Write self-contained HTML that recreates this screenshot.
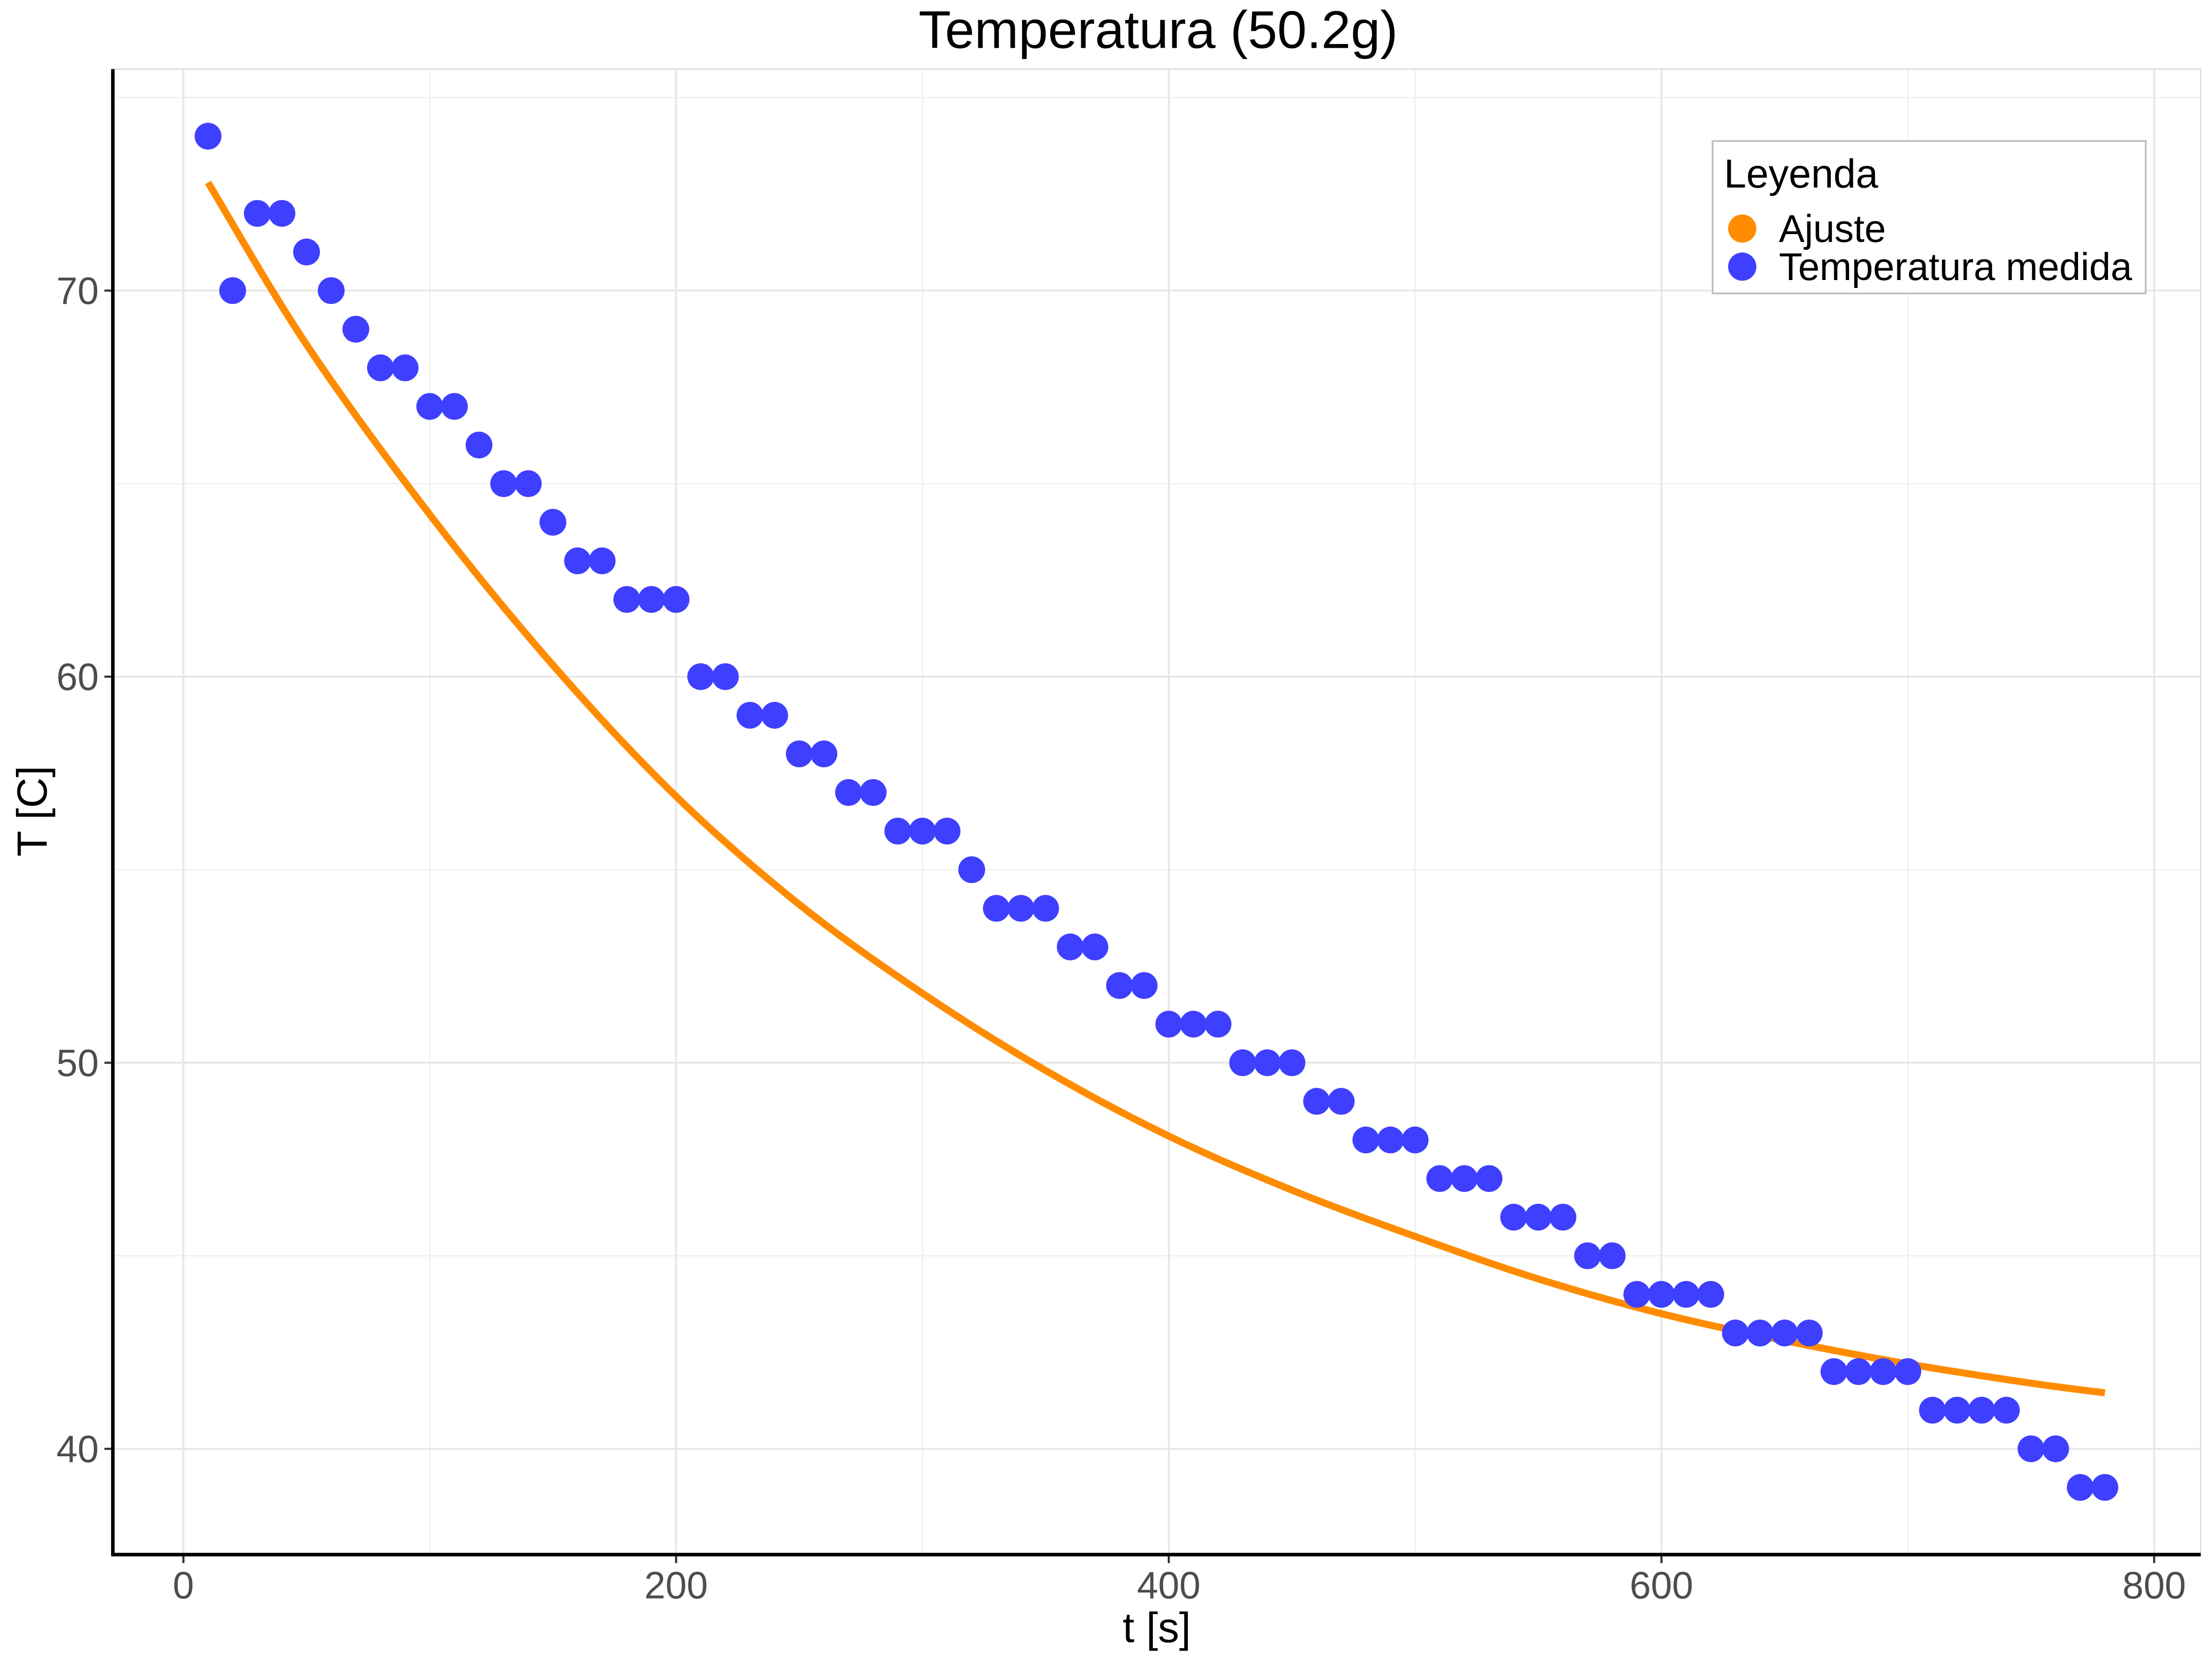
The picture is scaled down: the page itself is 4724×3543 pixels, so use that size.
<!DOCTYPE html>
<html><head><meta charset="utf-8"><style>html,body{margin:0;padding:0;background:#fff}svg{display:block}text{font-family:"Liberation Sans",Arial,sans-serif}</style></head>
<body>
<svg id="chart" width="4724" height="3543" viewBox="0 0 1568 1176" xmlns="http://www.w3.org/2000/svg">
<rect width="1568" height="1176" fill="#fff"/>
<g id="grid"></g>
<g id="fit"></g>
<g id="pts"></g>
<g id="axes"></g>
<text x="821" y="34" font-size="37.5" text-anchor="middle">Temperatura (50.2g)</text>
<text x="820" y="1164" font-size="30" text-anchor="middle">t [s]</text>
<text transform="translate(33,575) rotate(-90)" font-size="30" text-anchor="middle">T [C]</text>
<g>
<rect x="1214" y="100" width="307" height="108" fill="#fff" stroke="#bbb" stroke-width="1.2"/>
<text x="1222" y="133" font-size="28.5">Leyenda</text>
<circle cx="1235" cy="162" r="10" fill="#ff8c00"/>
<text x="1261" y="171.5" font-size="27.3">Ajuste</text>
<circle cx="1235" cy="189" r="10" fill="#3f3fff"/>
<text x="1261" y="198.5" font-size="27.3">Temperatura medida</text>
</g>
</svg>
<script>
const times=[10,20,30,40,50,60,70,80,90,100,110,120,130,140,150,160,170,180,190,200,210,220,230,240,250,260,270,280,290,300,310,320,330,340,350,360,370,380,390,400,410,420,430,440,450,460,470,480,490,500,510,520,530,540,550,560,570,580,590,600,610,620,630,640,650,660,670,680,690,700,710,720,730,740,750,760,770,780];
const temps=[74,70,72,72,71,70,69,68,68,67,67,66,65,65,64,63,63,62,62,62,60,60,59,59,58,58,57,57,56,56,56,55,54,54,54,53,53,52,52,51,51,51,50,50,50,49,49,48,48,48,47,47,47,46,46,46,45,45,44,44,44,44,43,43,43,43,42,42,42,42,41,41,41,41,40,40,39,39];
const fitT=[10,50,100,150,200,250,300,350,400,450,500,550,600,650,700,750,780];
const fitV=[72.8,68.6,64.2,60.3,56.9,54.1,51.8,49.8,48.1,46.7,45.5,44.4,43.5,42.8,42.2,41.7,41.45];
const xTicks=[0,200,400,600,800];
const xMinor=[100,300,500,700];
const yTicks=[40,50,60,70];
const yMinor=[45,55,65,75];
const NS="http://www.w3.org/2000/svg";
const L=80,R=1560,T=49,B=1102;
const xs=t=>130+(t-0)*(1527-130)/800;
const ys=v=>1027-(v-40)*(1027-206)/30;
function mk(tag,attrs,parent){const e=document.createElementNS(NS,tag);for(const k in attrs)e.setAttribute(k,attrs[k]);parent.appendChild(e);return e;}
const grid=document.getElementById('grid');
const axes=document.getElementById('axes');
xMinor.forEach(t=>{const l=mk('line',{x1:xs(t),x2:xs(t),y1:T,y2:B,stroke:'#f0f0f0','stroke-width':1},grid);

});
yMinor.forEach(v=>{const l=mk('line',{x1:L,x2:R,y1:ys(v),y2:ys(v),stroke:'#f0f0f0','stroke-width':1},grid);

});
xTicks.forEach(t=>{const l=mk('line',{x1:xs(t),x2:xs(t),y1:T,y2:B,stroke:'#e6e6e6','stroke-width':1.3},grid);


const tk=mk('line',{x1:xs(t),x2:xs(t),y1:B,y2:B+6,stroke:'#333','stroke-width':1.5},axes);


const tx=mk('text',{x:xs(t),y:1133,'font-size':27,fill:'#4d4d4d','text-anchor':'middle'},axes);tx.textContent=t;

});
yTicks.forEach(v=>{const l=mk('line',{x1:L,x2:R,y1:ys(v),y2:ys(v),stroke:'#e6e6e6','stroke-width':1.3},grid);


const tk=mk('line',{x1:L-6,x2:L,y1:ys(v),y2:ys(v),stroke:'#333','stroke-width':1.5},axes);


const tx=mk('text',{x:L-10,y:ys(v)+9.5,'font-size':27,fill:'#4d4d4d','text-anchor':'end'},axes);tx.textContent=v;

});
const border=mk('rect',{x:L,y:T,width:R-L,height:B-T,fill:'none',stroke:'#ddd','stroke-width':1},axes);


const ax=mk('line',{x1:L,x2:L,y1:T,y2:B+1,stroke:'#000','stroke-width':2.5},axes);


const ax2=mk('line',{x1:L-1,x2:R,y1:B,y2:B,stroke:'#000','stroke-width':2.5},axes);


// smooth Catmull-Rom path through fit points
const P=fitT.map((t,i)=>[xs(t),ys(fitV[i])]);
let d='M'+P[0][0]+','+P[0][1];
for(let i=0;i<P.length-1;i++){const p0=P[Math.max(0,i-1)],p1=P[i],p2=P[i+1],p3=P[Math.min(P.length-1,i+2)];
const c1=[p1[0]+(p2[0]-p0[0])/6,p1[1]+(p2[1]-p0[1])/6],c2=[p2[0]-(p3[0]-p1[0])/6,p2[1]-(p3[1]-p1[1])/6];
d+=' C'+c1[0]+','+c1[1]+' '+c2[0]+','+c2[1]+' '+p2[0]+','+p2[1];}
const fp=mk('path',{d:d,fill:'none',stroke:'#ff8c00','stroke-width':5},document.getElementById('fit'));


const pts=document.getElementById('pts');
times.forEach((t,i)=>{const c=mk('circle',{cx:xs(t),cy:ys(temps[i]),r:9.5,fill:'#3f3fff'},pts);

});
</script>
</body></html>
